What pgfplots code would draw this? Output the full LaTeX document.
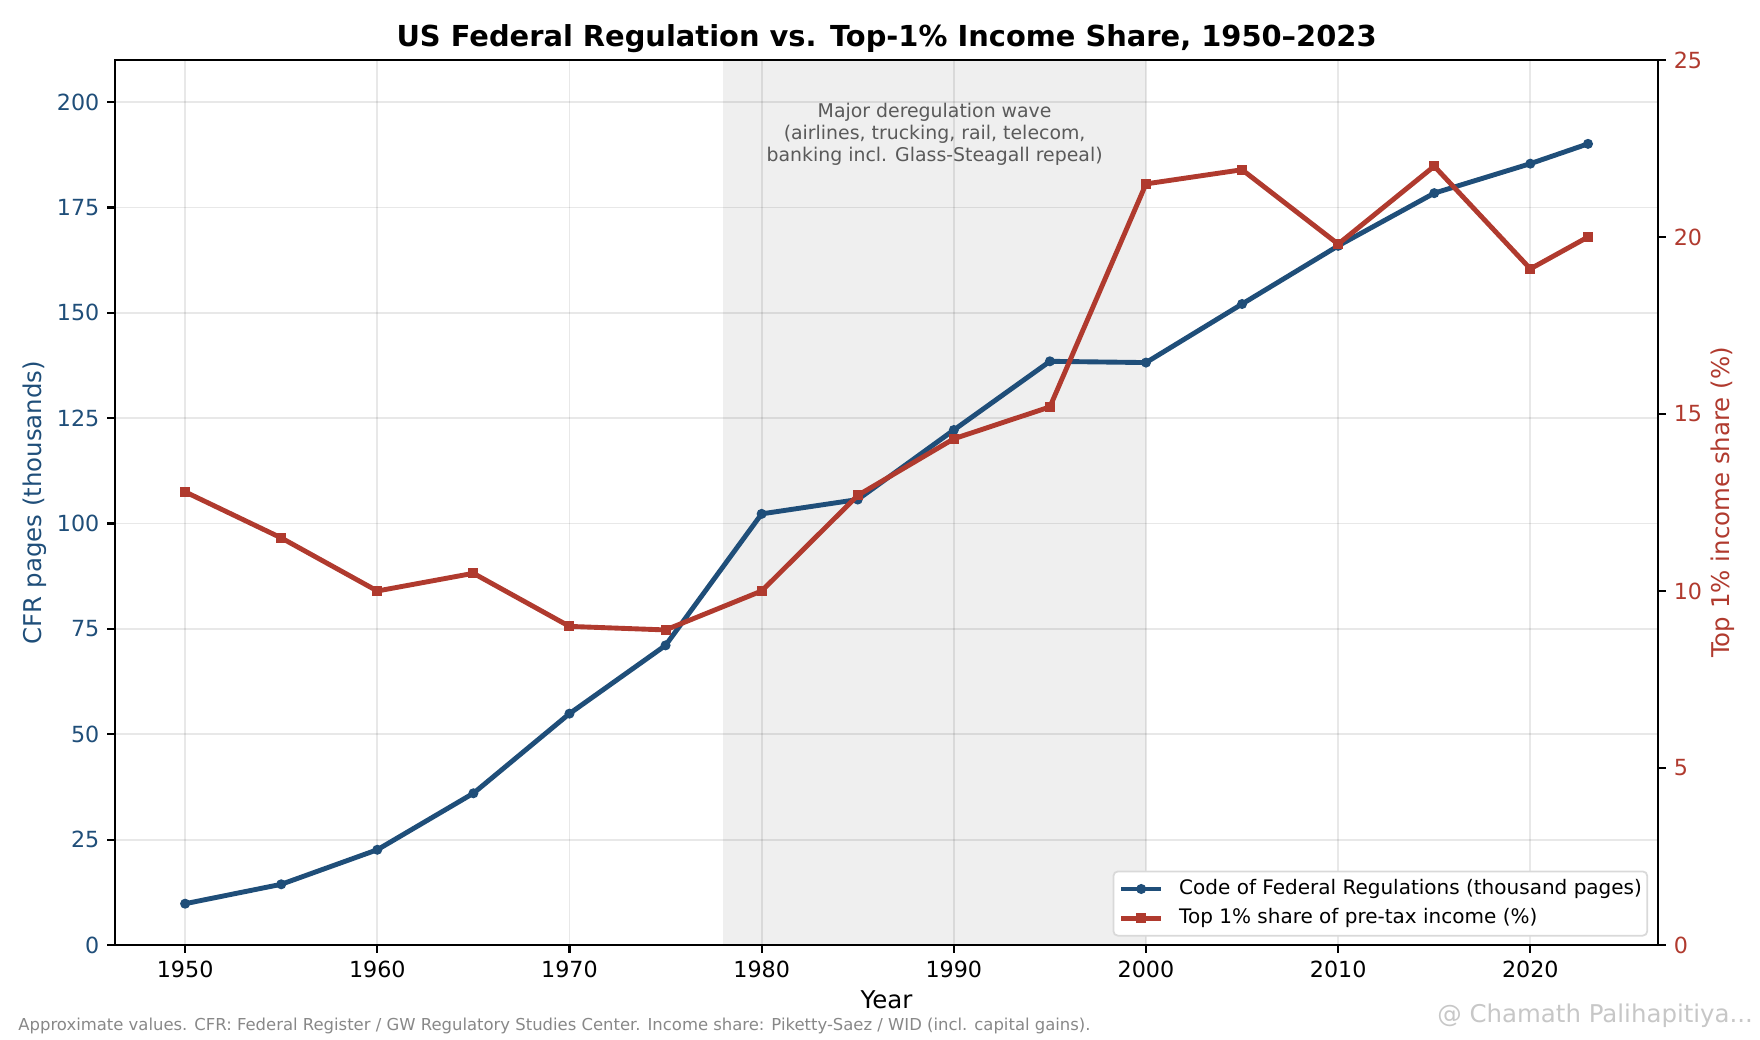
\documentclass[border=0pt]{standalone}
\usepackage{fontspec}
\setmainfont{DejaVu Sans}
\usepackage{pgfplots}
\usepackage{pgfplotstable}
\pgfplotsset{compat=1.18}
\definecolor{cfrblue}{HTML}{1F4E79}
\definecolor{incred}{HTML}{B03A2E}
\definecolor{shade}{HTML}{EFEFEF}
\definecolor{annot}{HTML}{5A5A5A}
\definecolor{foot}{HTML}{888888}

\pgfplotstableread{
year cfr
1950 9.8
1955 14.4
1960 22.6
1965 36.0
1970 54.9
1975 71.1
1980 102.3
1985 105.7
1990 122.2
1995 138.5
2000 138.2
2005 152.1
2010 165.9
2015 178.4
2020 185.4
2023 190.1
}\cfrdata

\pgfplotstableread{
year share
1950 12.8
1955 11.5
1960 10.0
1965 10.5
1970 9.0
1975 8.9
1980 10.0
1985 12.7
1990 14.3
1995 15.2
2000 21.5
2005 21.9
2010 19.8
2015 22.0
2020 19.1
2023 20.0
}\sharedata

\begin{document}
\begin{tikzpicture}
\pgfplotsset{
  common/.style={
    scale only axis, width=694.4pt, height=398.25pt,
    at={(51.75pt,42.75pt)}, anchor=south west,
    xmin=1946.35, xmax=2026.65,
    tick align=outside, major tick length=3.5pt,
    every tick/.style={black, line width=1pt},
    axis line style={line width=1pt},
    /pgf/number format/assume math mode=true,
    tick label style={font=\fontsize{10}{12}\selectfont},
    label style={font=\fontsize{11}{13}\selectfont},
    set layers,
  }
}
\begin{axis}[common,
  ymin=0, ymax=210,
  xtick={1950,1960,...,2020},
  ytick={0,25,...,200},
  xtick pos=left, ytick pos=left,
  xticklabel style={/pgf/number format/1000 sep={}},
  yticklabel style={text=cfrblue},
  grid=major,
  grid style={line width=0.8pt, draw=black, opacity=0.09},
  xlabel={Year},
  ylabel={CFR pages (thousands)},
  xlabel style={at={(axis description cs:0.5,-0.06215)}, anchor=center},
  ylabel style={at={(axis description cs:-0.05192,0.5)}, anchor=center, text=cfrblue},
]
\addplot[draw=none, fill=shade, on layer=axis background, forget plot]
  coordinates {(1978,0) (2000,0) (2000,210) (1978,210)} -- cycle;
\addplot[cfrblue, line width=2.2pt, mark=*, mark size=2pt, mark options={line width=0.5pt}]
  table[x=year, y=cfr] {\cfrdata};
\node[align=center, text=annot, font=\fontsize{8.5}{9.9}\selectfont]
  at (axis cs:1989,192.3)
  {Major deregulation wave\\(airlines, trucking, rail, telecom,\\banking incl. Glass-Steagall repeal)};
\end{axis}

\begin{axis}[common,
  ymin=0, ymax=25,
  axis y line*=right, axis x line=none,
  y axis line style={-},
  ytick={0,5,...,25},
  yticklabel style={text=incred},
  ylabel={Top 1\% income share (\%)},
  ylabel style={at={(axis description cs:1.04162,0.5)}, anchor=center, text=incred},
  legend cell align=left,
  legend image code/.code={\draw[mark repeat=2, mark phase=2] plot coordinates {(0pt,0pt) (9pt,0pt) (18pt,0pt)};},
  legend style={at={(axis description cs:1,0)}, anchor=south east, xshift=-4.5pt, yshift=3.8pt,
    draw=black!15, line width=0.8pt, rounded corners=2pt, fill=white,
    font=\fontsize{9}{11}\selectfont, inner xsep=2.4pt, inner ysep=3.4pt,
    row sep=4.1pt, column sep=7.0pt,
    nodes={inner sep=0pt, text height=6.8pt, text depth=2.2pt}},
]
\addlegendimage{cfrblue, line width=2.2pt, mark=*, mark size=2pt, mark options={line width=0.5pt}}
\addlegendentry{Code of Federal Regulations (thousand pages)}
\addplot[incred, line width=2.2pt, mark=square*, mark size=2pt, mark options={line width=0.5pt}]
  table[x=year, y=share] {\sharedata};
\addlegendentry{Top 1\% share of pre-tax income (\%)}
\end{axis}

\node[anchor=center, inner sep=0pt, font=\bfseries\fontsize{13}{15}\selectfont] at (398.95pt,450.4pt)
  {US Federal Regulation vs. Top-1\% Income Share, 1950–2023};
\node[anchor=west, inner sep=0pt, text=foot, font=\fontsize{7.4}{9}\selectfont] at (8.1pt,6.2pt)
  {Approximate values. CFR: Federal Register / GW Regulatory Studies Center. Income share: Piketty-Saez / WID (incl. capital gains).};
\node[anchor=east, inner sep=0pt, text=black!22, font=\fontsize{11}{13}\selectfont] at (789pt,10.8pt)
  {@ Chamath Palihapitiya...};

\pgfresetboundingbox
\path[use as bounding box] (0,0) rectangle (792pt,468pt);
\end{tikzpicture}
\end{document}
